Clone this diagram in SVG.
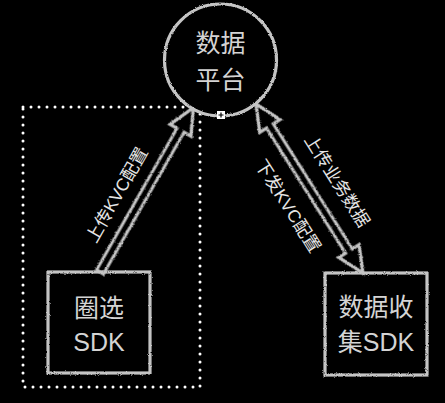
<svg xmlns="http://www.w3.org/2000/svg" width="445" height="403" viewBox="0 0 445 403">
<style>
.sk{fill:none;stroke:#c4c4c4;stroke-width:3.2;filter:url(#rough)}
.nt{font-family:"Liberation Sans","Noto Sans CJK SC",sans-serif;font-size:25px;fill:#d4d4d4;text-anchor:middle}
.lb{font-family:"Liberation Sans","Noto Sans CJK SC",sans-serif;font-size:17.5px;fill:#e6e6e6;text-anchor:middle}
.dot{fill:none;stroke:#ffffff;stroke-width:3;stroke-linecap:round;stroke-dasharray:0 8}
</style>
<defs>
<filter id="rough" x="-10%" y="-10%" width="120%" height="120%">
<feTurbulence type="fractalNoise" baseFrequency="0.9" numOctaves="2" seed="3"/>
<feDisplacementMap in="SourceGraphic" scale="2.5" xChannelSelector="R" yChannelSelector="G"/>
</filter>
</defs>
<rect width="445" height="403" fill="#000"/>
<g id="dotted-group">
<rect class="dot" x="23" y="107" width="177" height="280"/>
</g>
<g id="connectors">
<g transform="translate(100,272) rotate(-60.4)">
<polygon class="sk" points="0,-4 163,-4 163,-12 189,0 163,12 163,4 0,4"/>
</g>
<g transform="translate(256,104) rotate(57.7)">
<polygon class="sk" points="0,0 26,-12 26,-4 174,-4 174,-12 200,0 174,12 174,4 26,4 26,12"/>
</g>
<text class="lb" transform="translate(117,195) rotate(-60.4)" y="6">上传KVC配置</text>
<text class="lb" transform="translate(337,181) rotate(57.7)" y="6">上传业务数据</text>
<text class="lb" transform="translate(288,206) rotate(57.7)" y="6">下发KVC配置</text>
</g>
<g id="platform">
<circle cx="220.5" cy="60" r="56" fill="#000" stroke="#c4c4c4" stroke-width="3.2" filter="url(#rough)"/>
<text class="nt" x="220.5" y="52">数据</text>
<text class="nt" x="220.5" y="89">平台</text>
</g>
<g id="handle">
<rect x="217" y="111" width="8" height="8" fill="#fff"/>
<path d="M221,112.5V117.5M218.5,115H223.5" stroke="#000" stroke-width="1.2"/>
</g>
<g id="quanxuan-sdk">
<rect class="sk" x="48" y="272" width="102" height="101"/>
<text class="nt" x="99" y="317">圈选</text>
<text class="nt" x="99" y="351">SDK</text>
</g>
<g id="collect-sdk">
<rect class="sk" x="325" y="273" width="102" height="102"/>
<text class="nt" x="376" y="316">数据收</text>
<text class="nt" x="376" y="351">集SDK</text>
</g>
</svg>
